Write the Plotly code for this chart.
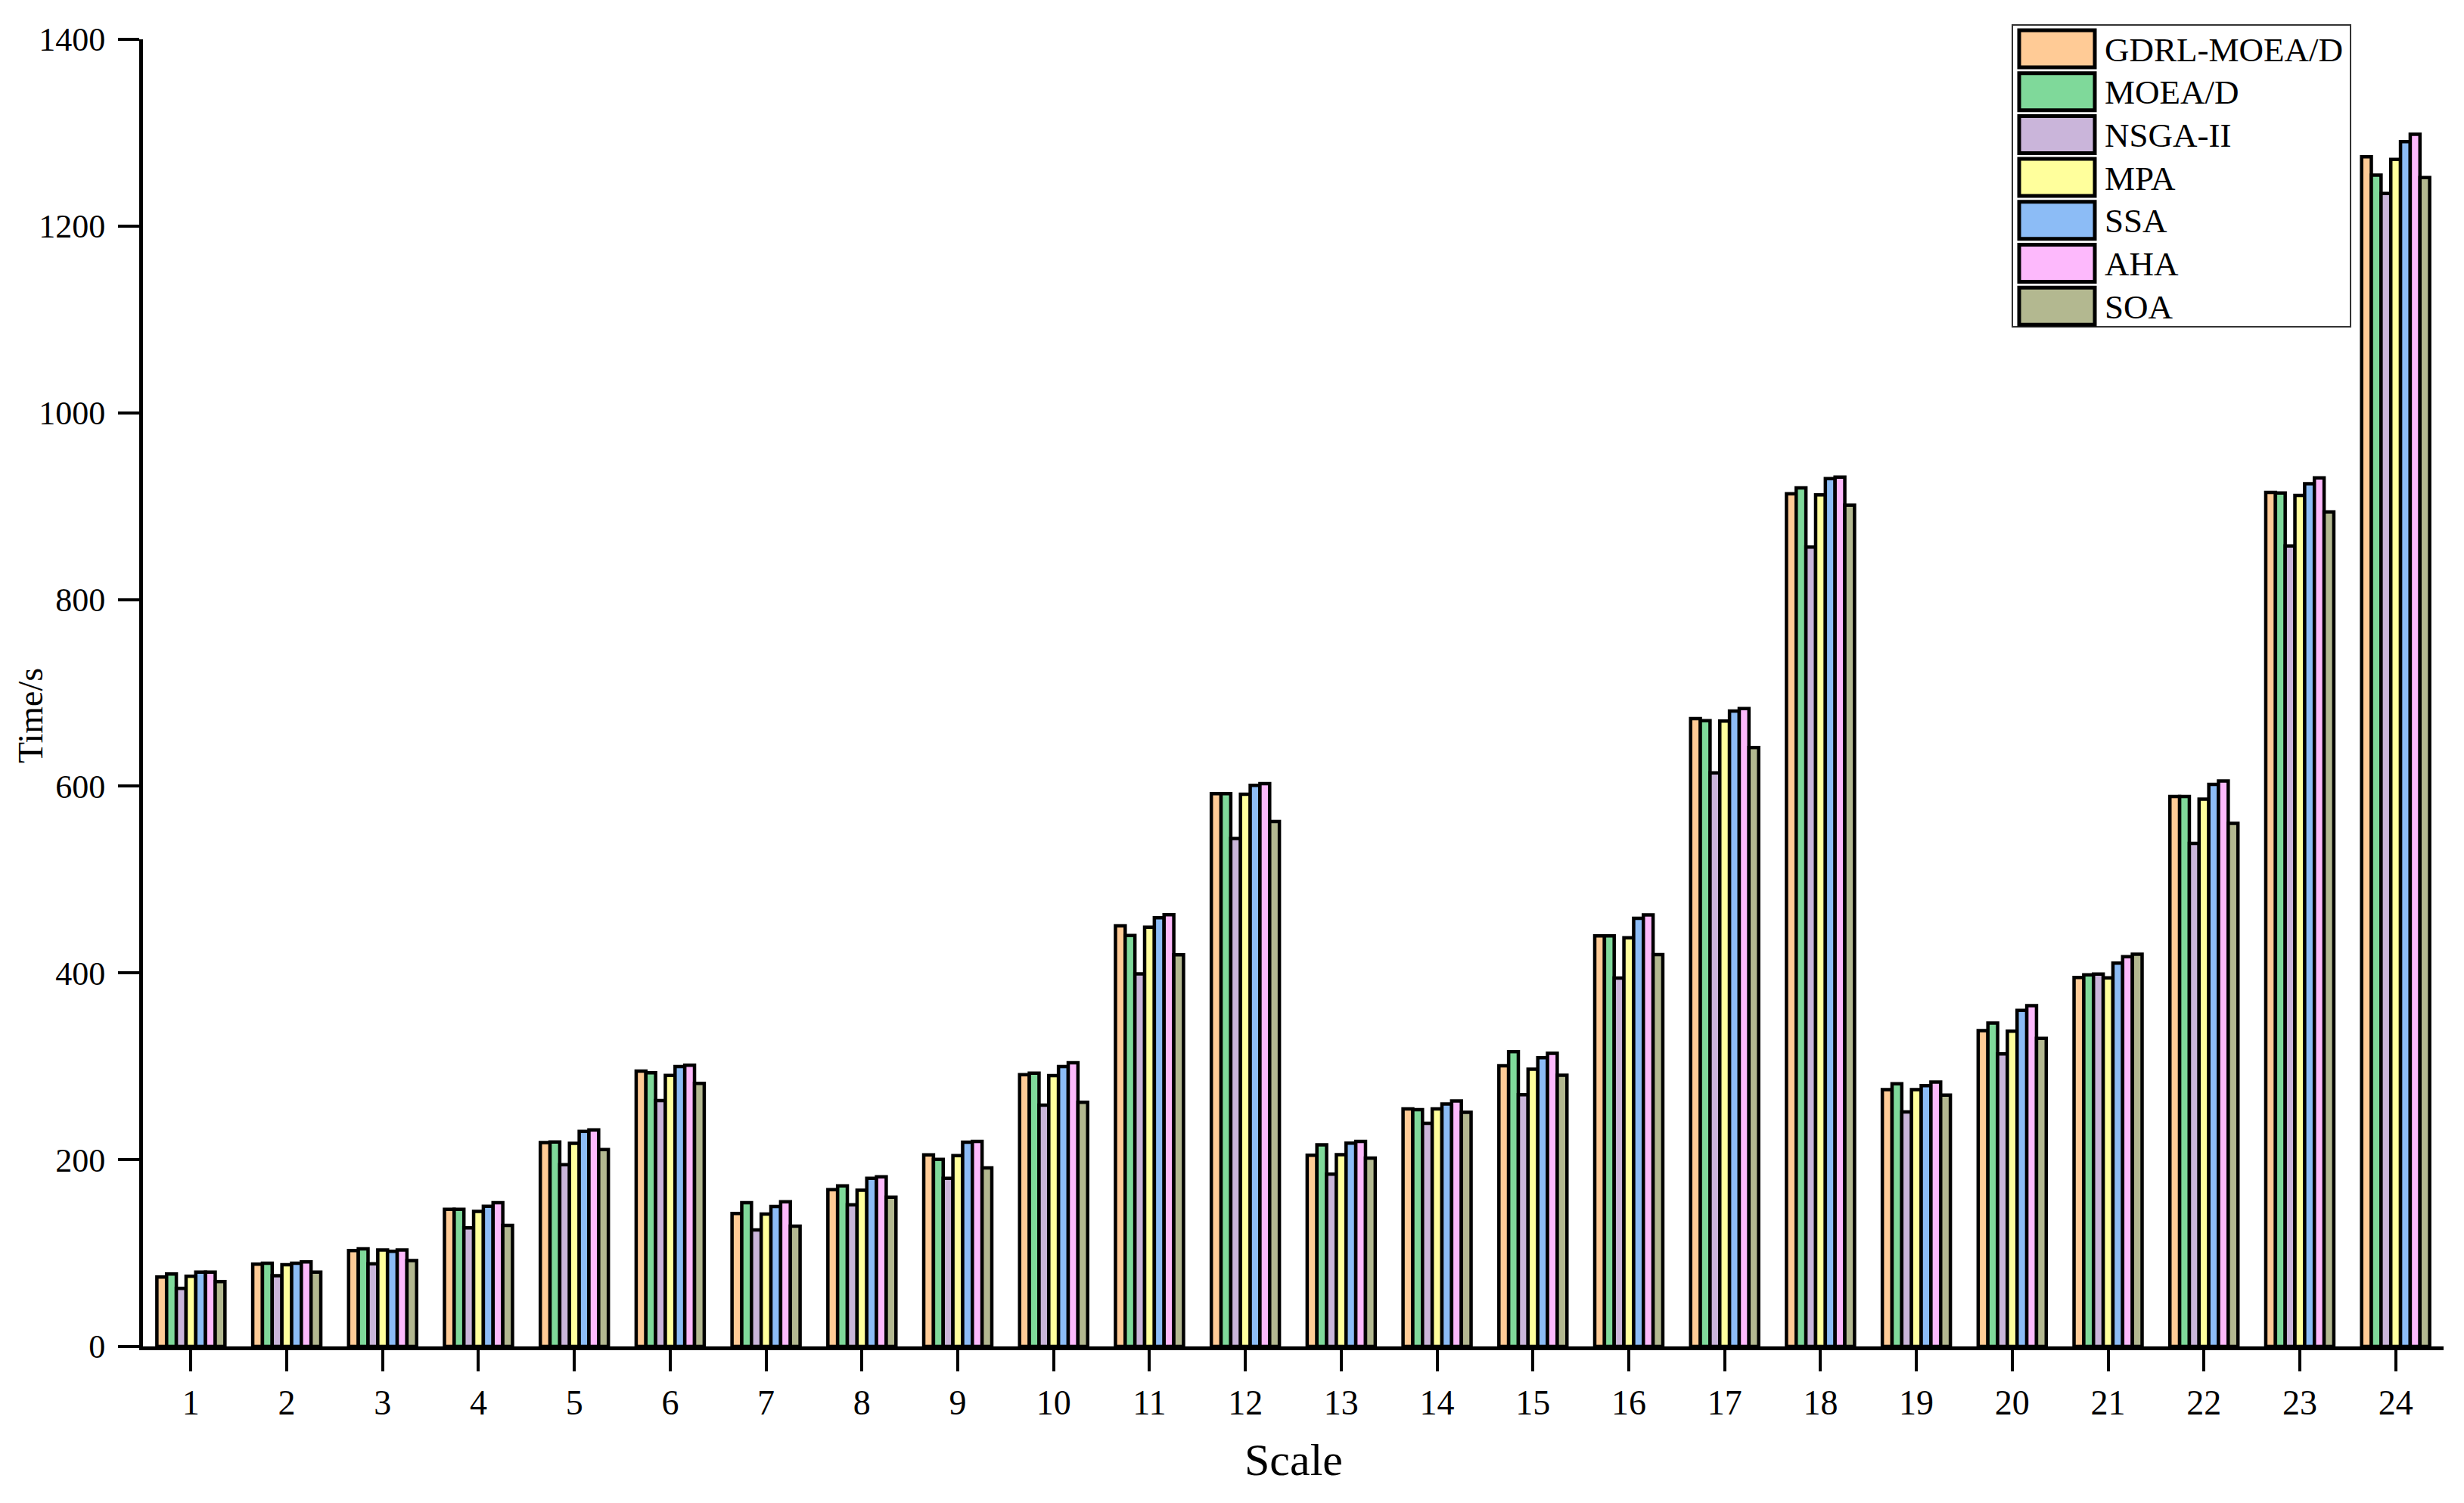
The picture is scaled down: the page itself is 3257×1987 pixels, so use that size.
import plotly.graph_objects as go

scales = list(range(1, 25))
tick_text = [str(s) for s in scales]
y_ticks = [0, 200, 400, 600, 800, 1000, 1200, 1400]

series_names = ["GDRL-MOEA/D", "MOEA/D", "NSGA-II", "MPA", "SSA", "AHA", "SOA"]

gdrl_moead = [74.3, 88.1, 102.7, 146.8, 218.4, 294.9, 142.3, 168.0, 205.2, 291.1, 450.5, 592.0,
              204.7, 254.3, 300.6, 439.8, 672.4, 913.3, 275.0, 338.2, 395.2, 589.1, 914.7, 1274.3]
moead = [77.6, 89.2, 104.6, 146.8, 219.0, 293.0, 153.9, 172.0, 200.4, 292.7, 440.2, 592.0,
         215.9, 253.6, 315.8, 439.8, 670.3, 919.5, 281.3, 346.4, 398.1, 589.1, 914.1, 1254.6]
nsga2 = [62.2, 75.7, 88.6, 127.0, 194.6, 263.3, 124.8, 151.8, 180.1, 258.4, 399.1, 544.1,
         184.5, 239.1, 269.5, 394.6, 614.4, 856.1, 251.2, 313.4, 398.9, 538.7, 857.4, 1234.9]
mpa = [75.1, 87.6, 103.2, 144.6, 217.6, 290.3, 141.8, 167.4, 204.4, 290.0, 449.1, 591.4,
       205.4, 254.3, 297.0, 437.7, 669.8, 912.0, 275.1, 337.7, 394.8, 586.2, 911.4, 1271.3]
ssa = [79.7, 89.2, 101.9, 150.0, 230.3, 299.8, 149.9, 180.1, 218.7, 299.8, 459.1, 600.9,
       217.7, 259.7, 309.3, 458.6, 680.5, 929.5, 279.3, 360.0, 410.5, 601.9, 924.1, 1290.5]
aha = [79.7, 90.5, 103.2, 154.0, 232.0, 301.1, 155.0, 181.7, 219.6, 303.8, 462.4, 602.8,
       219.5, 263.0, 314.0, 462.3, 683.2, 931.1, 283.2, 365.0, 417.5, 605.6, 930.3, 1298.3]
soa = [69.5, 79.5, 91.9, 129.7, 210.8, 281.7, 128.8, 159.9, 191.2, 261.4, 419.4, 562.3,
       201.8, 250.7, 290.4, 419.6, 641.4, 901.2, 269.1, 329.9, 420.0, 560.2, 893.8, 1251.9]

series_values = [gdrl_moead, moead, nsga2, mpa, ssa, aha, soa]
colors = ["#FFCB96", "#7FD99A", "#CAB5DA", "#FFFF9C", "#8CBCF6", "#FDB9FC", "#B3B890"]

W, H = 3257, 1987
ML, MR, MT, MB = 189, 27, 52, 207
PW = W - ML - MR
PH = H - MT - MB
FONT = "Liberation Serif, Times New Roman, serif"


def px_x(px):
    return (px - ML) / PW


def px_y(py):
    return (H - MB - py) / PH


fig = go.Figure()
for name, vals, col in zip(series_names, series_values, colors):
    fig.add_trace(go.Bar(
        x=scales, y=vals, name=name,
        marker=dict(color=col, line=dict(color="black", width=4.5)),
        showlegend=False,
    ))

# custom legend (large swatches, like the original)
shapes = []
annotations = []
shapes.append(dict(type="rect", xref="paper", yref="paper",
                   x0=px_x(2660), x1=px_x(3107), y0=px_y(432), y1=px_y(33),
                   line=dict(color="#333333", width=2), fillcolor="white", layer="above"))
row_top0, row_pitch, sw_h = 40, 56.7, 49
for i, (name, col) in enumerate(zip(series_names, colors)):
    top = row_top0 + i * row_pitch
    shapes.append(dict(type="rect", xref="paper", yref="paper",
                       x0=px_x(2669), x1=px_x(2769), y0=px_y(top + sw_h), y1=px_y(top),
                       line=dict(color="black", width=5), fillcolor=col, layer="above"))
    annotations.append(dict(xref="paper", yref="paper", x=px_x(2780), y=px_y(top + sw_h / 2 + 1),
                            xanchor="left", yanchor="middle", showarrow=False, text=name,
                            font=dict(family=FONT, size=45, color="black")))

# axis titles
annotations.append(dict(xref="paper", yref="paper", x=px_x(40), y=px_y(946),
                        xanchor="center", yanchor="middle", showarrow=False, text="Time/s",
                        textangle=-90, font=dict(family=FONT, size=46, color="black")))
annotations.append(dict(xref="paper", yref="paper", x=0.5, y=px_y(1930),
                        xanchor="center", yanchor="middle", showarrow=False, text="Scale",
                        font=dict(family=FONT, size=60, color="black")))

fig.update_layout(
    width=W, height=H,
    margin=dict(l=ML, r=MR, t=MT, b=MB, autoexpand=False),
    paper_bgcolor="white", plot_bgcolor="white",
    barmode="group", bargap=0.29, bargroupgap=0.0,
    font=dict(family=FONT, color="black"),
    shapes=shapes, annotations=annotations,
    showlegend=False,
)
fig.update_xaxes(
    range=[0.5, 24.5], tickmode="array", tickvals=scales, ticktext=tick_text,
    showline=True, linecolor="black", linewidth=5, ticks="outside", ticklen=28, tickwidth=4,
    tickcolor="black", showgrid=False, zeroline=False, ticklabelstandoff=2,
    tickfont=dict(family=FONT, size=46, color="black"),
)
fig.update_yaxes(
    range=[0, 1400], tickmode="array", tickvals=y_ticks,
    showline=True, linecolor="black", linewidth=5, ticks="outside", ticklen=28, tickwidth=4,
    tickcolor="black", showgrid=False, zeroline=False, ticklabelstandoff=8,
    tickfont=dict(family=FONT, size=44, color="black"),
)

fig.write_html("out.html", config={"displayModeBar": False},
               post_script="document.body.style.margin='0';document.body.style.overflow='hidden';")
